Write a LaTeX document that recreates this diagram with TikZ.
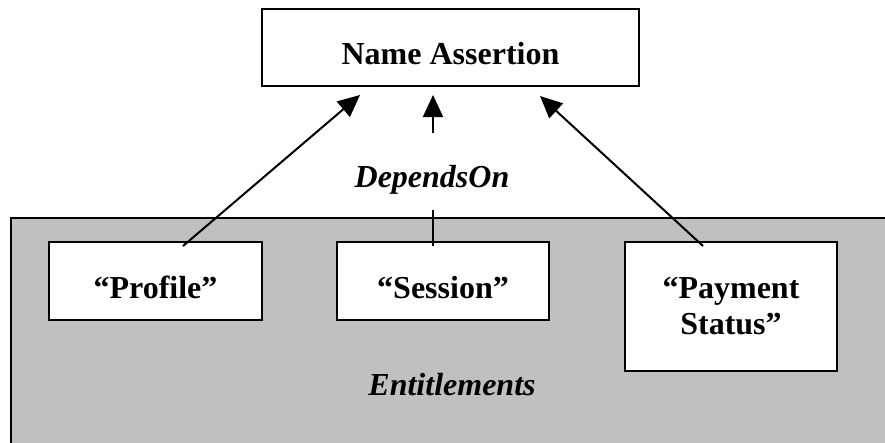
\documentclass[tikz,border=0pt]{standalone}
\usepackage{fontspec}
\setmainfont{Liberation Serif}
\usetikzlibrary{arrows.meta}
\definecolor{entgray}{HTML}{C0C0C0}
\begin{document}
\begin{tikzpicture}[x=1pt,y=-1pt,
  box/.style={draw=black, line width=2pt, fill=white, inner sep=0pt,
    font=\fontsize{32}{36}\selectfont\bfseries},
  onebox/.style={box, text height=34pt, text depth=0pt},
  caption/.style={anchor=base, inner sep=0pt,
    font=\fontsize{32}{36}\selectfont\bfseries\itshape},
  dep/.style={-{Triangle[length=22pt,width=20pt]}, line width=2pt},
  link/.style={line width=2pt}
]
\useasboundingbox (0,0) rectangle (885,442);
\clip (0,0) rectangle (885,442);

% grey area holding the entitlements
\draw[fill=entgray, line width=2pt] (11,218) rectangle (900,460);

% boxes
\node[onebox, minimum width=377pt, minimum height=77pt] (na) at (450.5,47.5) {Name Assertion};
\node[onebox, minimum width=213pt, minimum height=78pt] (profile) at (155.5,281) {“Profile”};
\node[onebox, minimum width=212pt, minimum height=78pt] (session) at (443,281) {“Session”};
\node[box, align=center, minimum width=212pt, minimum height=129pt] (payment) at (731,306.5) {“Payment\\Status”};

% captions
\node[caption] (dependson) at (432,187) {DependsOn};
\node[caption] (entitlements) at (452,395) {Entitlements};

% dependency arrows
\draw[dep] ([xshift=27.5pt,yshift=-5pt]profile.north) -- ([xshift=-90.5pt,yshift=-8pt]na.south);
\draw[dep] ([xshift=-28pt,yshift=-5pt]payment.north) -- ([xshift=89.5pt,yshift=-9pt]na.south);
\coordinate (midtail) at (433,133);
\draw[dep] (midtail) -- ([xshift=-17.5pt,yshift=-8pt]na.south);
\coordinate (midtop) at (433,210);
\draw[link] ([xshift=-10pt,yshift=-5pt]session.north) -- (midtop);
\end{tikzpicture}
\end{document}
